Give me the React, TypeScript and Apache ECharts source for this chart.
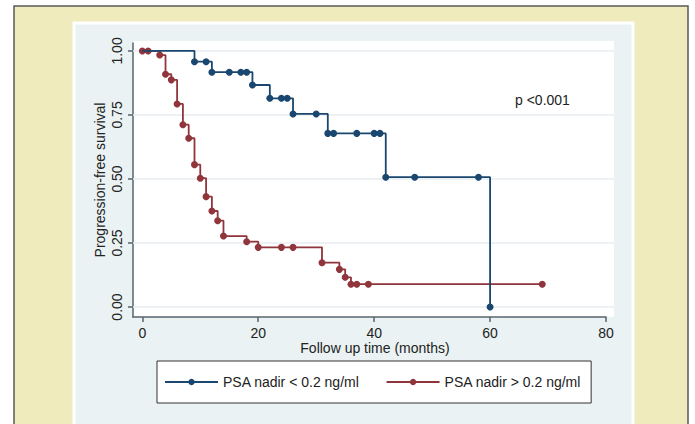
import React, { useEffect, useRef } from "react";
import * as echarts from "echarts";

// ---- data ----
const xTicks = [0, 20, 40, 60, 80];
const yTicks = [0, 0.25, 0.5, 0.75, 1];

const seriesNames = ["PSA nadir < 0.2 ng/ml", "PSA nadir > 0.2 ng/ml"];

// PSA nadir < 0.2 ng/ml (months, survival)
const blueTime = [0, 9, 11, 12, 15, 17, 18, 19, 22, 24, 25, 26, 30, 32, 33, 37, 40, 41, 42, 47, 58, 60];
const blueSurv = [1, 0.958, 0.958, 0.917, 0.917, 0.917, 0.917, 0.867, 0.815, 0.815, 0.815, 0.754, 0.754, 0.678, 0.678, 0.678, 0.678, 0.678, 0.507, 0.507, 0.507, 0];

// PSA nadir > 0.2 ng/ml
const redTime = [0, 1, 3, 4, 5, 6, 7, 8, 9, 10, 11, 12, 13, 14, 18, 20, 24, 26, 31, 34, 35, 36, 37, 39, 69];
const redSurv = [1, 1, 0.984, 0.909, 0.887, 0.793, 0.712, 0.659, 0.556, 0.503, 0.431, 0.375, 0.337, 0.277, 0.255, 0.233, 0.233, 0.233, 0.173, 0.147, 0.116, 0.089, 0.089, 0.089, 0.089];

const pValueText = "p <0.001";
const xTitle = "Follow up time (months)";
const yTitle = "Progression-free survival";

const BLUE = "#1a476f";
const RED = "#90353b";
const FONT = "Arial, 'Liberation Sans', sans-serif";

export default function App() {
  const ref = useRef<HTMLDivElement>(null);

  useEffect(() => {
    if (!ref.current) return;
    const chart = echarts.init(ref.current, undefined, { renderer: "svg" });

    const yMin = -0.039;
    const yMax = 1.031;

    const blueData = blueTime.map((t, i) =>
      i === 0 ? { value: [t, blueSurv[i]], symbol: "none" } : [t, blueSurv[i]]
    );
    const redData = redTime.map((t, i) => [t, redSurv[i]]);

    const option: any = {
      animation: false,
      backgroundColor: "transparent",
      graphic: [
        {
          type: "rect",
          z: -10,
          shape: { x: 14, y: 6, width: 674, height: 440 },
          style: { fill: "#efebbd", stroke: "#5a5a5a", lineWidth: 1.5 },
        },
        {
          type: "rect",
          z: -9,
          shape: { x: 74, y: 23, width: 559, height: 430 },
          style: { fill: "#eaf2f3", stroke: "#ffffff", lineWidth: 3 },
        },
        {
          type: "text",
          left: 515,
          top: 93,
          style: { text: pValueText, font: `14px ${FONT}`, fill: "#222" },
        },
      ],
      grid: [
        {
          left: 133,
          top: 41,
          width: 481,
          height: 276,
          show: true,
          backgroundColor: "#ffffff",
          borderWidth: 0,
        },
        {
          left: 133,
          top: 43,
          width: 473,
          height: 274,
        },
      ],
      xAxis: [
        { gridIndex: 0, type: "value", min: 0, max: 1, show: false },
        {
          gridIndex: 1,
          type: "value",
          min: -1.61,
          max: 80,
          name: xTitle,
          nameLocation: "middle",
          nameGap: 24,
          nameMoveOverlap: false,
          nameTextStyle: { fontFamily: FONT, fontSize: 14, color: "#222", padding: [0, 0, 0, 11] },
          axisLine: { show: true, onZero: false, lineStyle: { color: "#56646e", width: 1.5 } },
          axisTick: { show: true, length: 5, customValues: xTicks, lineStyle: { color: "#56646e", width: 1.5 } },
          axisLabel: { customValues: xTicks, margin: 9, fontFamily: FONT, fontSize: 14, color: "#222" },
          splitLine: { show: false },
        },
      ],
      yAxis: [
        { gridIndex: 0, type: "value", min: yMin, max: 1.039, show: false },
        {
          gridIndex: 1,
          type: "value",
          min: yMin,
          max: yMax,
          name: yTitle,
          nameLocation: "middle",
          nameGap: 26,
          nameMoveOverlap: false,
          nameRotate: 90,
          nameTextStyle: { fontFamily: FONT, fontSize: 14, color: "#222" },
          axisLine: { show: true, onZero: false, lineStyle: { color: "#56646e", width: 1.5 } },
          axisTick: { show: true, length: 5, customValues: yTicks, lineStyle: { color: "#56646e", width: 1.5 } },
          axisLabel: {
            customValues: yTicks,
            rotate: 90,
            margin: 9,
            fontFamily: FONT,
            fontSize: 14,
            color: "#222",
            formatter: (v: number) => v.toFixed(2),
          },
          splitLine: { show: false },
        },
      ],
      legend: {
        data: seriesNames,
        left: 157,
        top: 361,
        orient: "horizontal",
        itemWidth: 53,
        itemHeight: 8,
        itemGap: 26,
        padding: [14, 10, 14, 7],
        borderColor: "#333",
        borderWidth: 1,
        backgroundColor: "#ffffff",
        textStyle: { fontFamily: FONT, fontSize: 14, color: "#222" },
      },
      series: [
        {
          type: "line",
          name: "grid",
          xAxisIndex: 0,
          yAxisIndex: 0,
          data: [],
          silent: true,
          z: 1,
          markLine: {
            silent: true,
            z: 1,
            symbol: ["none", "none"],
            label: { show: false },
            lineStyle: { color: "#e9edef", width: 1.5, type: "solid" },
            data: yTicks.map((v) => ({ yAxis: v })),
          },
        },
        {
          type: "line",
          name: seriesNames[1],
          xAxisIndex: 1,
          yAxisIndex: 1,
          step: "end",
          data: redData,
          symbol: "circle",
          symbolSize: 7,
          showAllSymbol: true,
          itemStyle: { color: RED },
          lineStyle: { color: RED, width: 1.8 },
          z: 3,
        },
        {
          type: "line",
          name: seriesNames[0],
          xAxisIndex: 1,
          yAxisIndex: 1,
          step: "end",
          data: blueData,
          symbol: "circle",
          symbolSize: 7,
          showAllSymbol: true,
          itemStyle: { color: BLUE },
          lineStyle: { color: BLUE, width: 1.8 },
          z: 4,
        },
      ],
    };

    chart.setOption(option);
    return () => chart.dispose();
  }, []);

  return (
    <div
      ref={ref}
      style={{ position: "fixed", left: 0, top: 0, width: 695, height: 424, background: "#ffffff" }}
    />
  );
}
